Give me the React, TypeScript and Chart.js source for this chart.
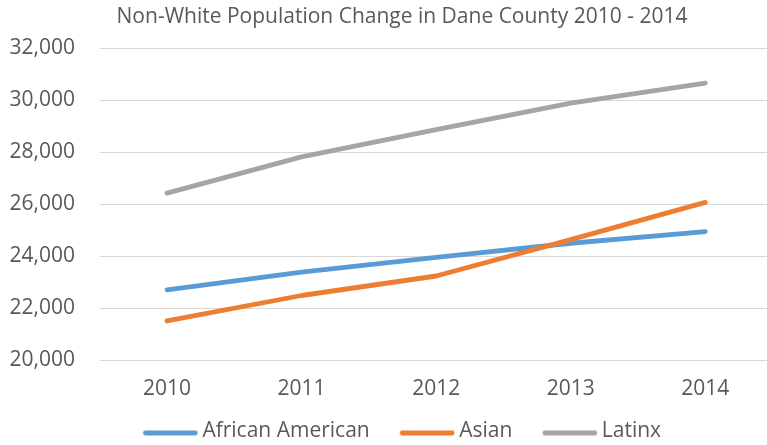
import { useEffect, useRef } from 'react';
import { Chart, registerables } from 'chart.js';

Chart.register(...registerables);

const years = ['2010', '2011', '2012', '2013', '2014'];
const africanAmerican = [22720, 23400, 23970, 24510, 24960];
const asian = [21520, 22500, 23250, 24650, 26080];
const latinx = [26440, 27830, 28880, 29900, 30670];
const seriesNames = ['African American', 'Asian', 'Latinx'];
const seriesColors = ['#5B9BD5', '#ED7D31', '#A5A5A5'];
const yMin = 20000;
const yMax = 32000;
const yStep = 2000;
const titleText = 'Non-White Population Change in Dane County 2010 - 2014';

const FONT = "'Open Sans', sans-serif";
const TEXT = '#595959';

function legendLine(color: string): HTMLCanvasElement {
  const c = document.createElement('canvas');
  c.width = 62;
  c.height = 10;
  const ctx = c.getContext('2d')!;
  ctx.strokeStyle = color;
  ctx.lineWidth = 4.8;
  ctx.lineCap = 'round';
  ctx.beginPath();
  ctx.moveTo(9, 6.5);
  ctx.lineTo(59, 6.5);
  ctx.stroke();
  return c;
}

export default function App() {
  const ref = useRef<HTMLCanvasElement>(null);

  useEffect(() => {
    const legendImgs = seriesColors.map(legendLine);
    const seriesData = [africanAmerican, asian, latinx];
    const orders = [1, 0, 2];
    const chart = new Chart(ref.current!, {
      type: 'line',
      data: {
        labels: years,
        datasets: seriesNames.map((name, i) => ({
          label: name,
          data: seriesData[i],
          borderColor: seriesColors[i],
          backgroundColor: seriesColors[i],
          borderWidth: 4.8,
          borderCapStyle: 'round',
          borderJoinStyle: 'round',
          pointRadius: 0,
          pointHoverRadius: 0,
          tension: 0,
          fill: false,
          order: orders[i],
        })),
      },
      options: {
        responsive: false,
        animation: false,
        events: [],
        layout: { padding: { left: 31.4, right: 27.4, top: 0, bottom: 0 } },
        plugins: {
          title: {
            display: true,
            text: titleText,
            color: TEXT,
            font: { family: FONT, size: 21, weight: 'normal' },
            padding: { top: 4, bottom: 19.3 },
          },
          legend: {
            position: 'bottom',
            labels: {
              usePointStyle: true,
              pointStyleWidth: 49,
              padding: 30,
              color: TEXT,
              font: { family: FONT, size: 21 },
              sort: (a: any, b: any) => a.datasetIndex - b.datasetIndex,
              generateLabels: (ch: any) => {
                const items = (Chart.defaults.plugins.legend.labels as any).generateLabels(ch);
                return items.map((it: any) => ({ ...it, pointStyle: legendImgs[it.datasetIndex] }));
              },
            },
          },
          tooltip: { enabled: false },
        },
        scales: {
          x: {
            offset: true,
            grid: { display: false, drawTicks: false },
            border: { display: false },
            ticks: {
              padding: 15.9,
              color: TEXT,
              font: { family: FONT, size: 21 },
            },
            afterFit: (s: any) => {
              s.height = 30.5;
              s._computeLabelArea = () => undefined;
            },
          },
          y: {
            min: yMin,
            max: yMax,
            grid: { color: '#D9D9D9', lineWidth: 1, drawTicks: false },
            border: { display: false },
            ticks: {
              stepSize: yStep,
              padding: 24.7,
              color: TEXT,
              font: { family: FONT, size: 21 },
              callback: (v: any) => Number(v).toLocaleString('en-US'),
            },
            afterFit: (s: any) => {
              s.width = 68.3;
              s._computeLabelArea = () => undefined;
            },
          },
        },
      } as any,
    });
    return () => chart.destroy();
  }, []);

  return (
    <div
      style={{
        position: 'absolute',
        left: 0,
        top: 0,
        width: 767,
        height: 445,
        overflow: 'hidden',
        background: '#ffffff',
      }}
    >
      <canvas
        ref={ref}
        width={800}
        height={452}
        style={{ display: 'block', width: 800, height: 452 }}
      />
    </div>
  );
}
